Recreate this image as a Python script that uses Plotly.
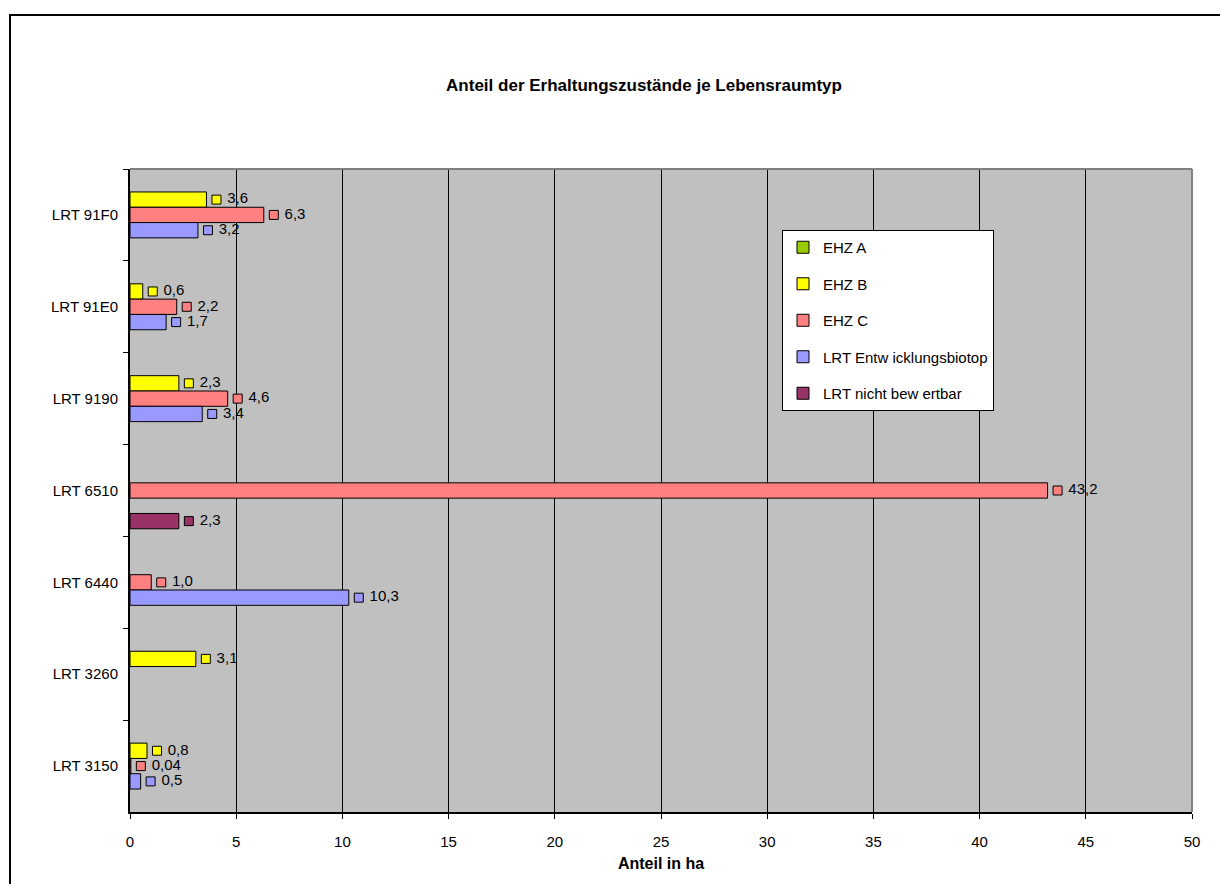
import plotly.graph_objects as go

# ---------------- data ----------------
categories = ["LRT 91F0", "LRT 91E0", "LRT 9190", "LRT 6510", "LRT 6440", "LRT 3260", "LRT 3150"]
series_names = ["EHZ A", "EHZ B", "EHZ C", "LRT Entwicklungsbiotop", "LRT nicht bewertbar"]
series_legend = ["EHZ A", "EHZ B", "EHZ C", "LRT Entw icklungsbiotop", "LRT nicht bew ertbar"]

ehz_a = [None, None, None, None, None, None, None]
ehz_b = [3.6, 0.6, 2.3, None, None, 3.1, 0.8]
ehz_c = [6.3, 2.2, 4.6, 43.2, 1.0, None, 0.04]
lrt_entw = [3.2, 1.7, 3.4, None, 10.3, None, 0.5]
lrt_nicht = [None, None, None, 2.3, None, None, None]

series_values = [ehz_a, ehz_b, ehz_c, lrt_entw, lrt_nicht]
series_colors = ["#99CC00", "#FFFF00", "#FF8080", "#9999FF", "#993366"]

x_ticks = [0, 5, 10, 15, 20, 25, 30, 35, 40, 45, 50]

# ---------------- layout geometry (page body has an 8px margin) ----------------
OFF = 8
W, H = 1228 - 2 * OFF, 892 - 2 * OFF
L, R, T, B = 130 - OFF, 1192 - OFF, 169 - OFF, 812 - OFF
PW, PH = R - L, B - T
XMAX = 50
FONT = "Arial, Liberation Sans, sans-serif"
BARGAP = 1 / 6
MARKER_GAP_PX = 10
marker_off = MARKER_GAP_PX * XMAX / PW


def fmt(v):
    if v is None:
        return None
    s = f"{v:.1f}" if round(v, 1) == v else f"{v:g}"
    return "\u00a0" + s.replace(".", ",")


fig = go.Figure()

for i, (name, vals, col) in enumerate(zip(series_names, series_values, series_colors)):
    fig.add_trace(go.Bar(
        y=categories, x=vals, orientation="h", name=series_legend[i],
        marker=dict(color=col, line=dict(color="black", width=1)),
        legendgroup=name, showlegend=True, hoverinfo="skip",
    ))

for i, (name, vals, col) in enumerate(zip(series_names, series_values, series_colors)):
    fig.add_trace(go.Scatter(
        y=categories,
        x=[v + marker_off if v is not None else None for v in vals],
        orientation="h", mode="markers+text",
        marker=dict(symbol="square", size=9, color=col, line=dict(color="black", width=1)),
        text=[fmt(v) for v in vals], textposition="middle right",
        textfont=dict(family=FONT, size=15, color="black"),
        showlegend=False, legendgroup=name, cliponaxis=False, hoverinfo="skip",
    ))

fig.update_layout(
    width=W, height=H,
    margin=dict(l=L, r=W - R, t=T, b=H - B, autoexpand=False),
    paper_bgcolor="white", plot_bgcolor="#C0C0C0",
    barmode="group", bargap=BARGAP, bargroupgap=0,
    scattermode="group", scattergap=BARGAP,
    font=dict(family=FONT, size=15, color="black"),
    title=dict(text="<b>Anteil der Erhaltungszustände je Lebensraumtyp</b>",
               x=(644 - OFF - L) / PW, xref="paper", xanchor="center",
               y=1 - (85 - OFF) / H, yref="container", yanchor="middle",
               font=dict(family=FONT, size=17, color="black")),
    legend=dict(x=(782 - OFF - L) / PW, y=(B - (230 - OFF)) / PH, xanchor="left", yanchor="top",
                bgcolor="white", bordercolor="black", borderwidth=1,
                font=dict(family=FONT, size=15, color="black"),
                traceorder="grouped", tracegroupgap=14, itemclick=False),
    showlegend=True,
)

fig.update_xaxes(
    range=[0, XMAX], tickvals=x_ticks, ticktext=[str(t) for t in x_ticks],
    showgrid=True, gridcolor="black", gridwidth=1,
    zeroline=False, showline=True, linecolor="black", linewidth=2,
    ticks="outside", ticklen=5, tickcolor="black", tickwidth=1,
    ticklabelstandoff=10,
    tickfont=dict(family=FONT, size=15, color="black"),
    title=dict(text="<b>Anteil in ha</b>", standoff=9,
               font=dict(family=FONT, size=16, color="black")),
    fixedrange=True,
)
fig.update_yaxes(
    type="category", categoryorder="array", categoryarray=categories,
    autorange="reversed", showgrid=False, zeroline=False,
    showline=True, linecolor="black", linewidth=2,
    ticks="outside", ticklen=5, tickcolor="black", tickwidth=1,
    tickson="boundaries", ticklabelstandoff=7,
    tickfont=dict(family=FONT, size=15, color="black"),
    fixedrange=True,
)

# plot-area top/right border (gray) and outer chart border
fig.add_shape(type="line", xref="paper", yref="paper", x0=0, x1=1, y0=1, y1=1,
              line=dict(color="#808080", width=2), layer="above")
fig.add_shape(type="line", xref="paper", yref="paper", x0=1, x1=1, y0=0, y1=1,
              line=dict(color="#808080", width=2), layer="above")
fig.add_shape(type="rect", xref="paper", yref="paper",
              x0=(10 - OFF - L) / PW, x1=(W + 40 - L) / PW,
              y0=(B - (H + 40)) / PH, y1=(B - (15 - OFF)) / PH,
              line=dict(color="black", width=2), fillcolor="rgba(0,0,0,0)", layer="below")

fig.write_html("out.html")
